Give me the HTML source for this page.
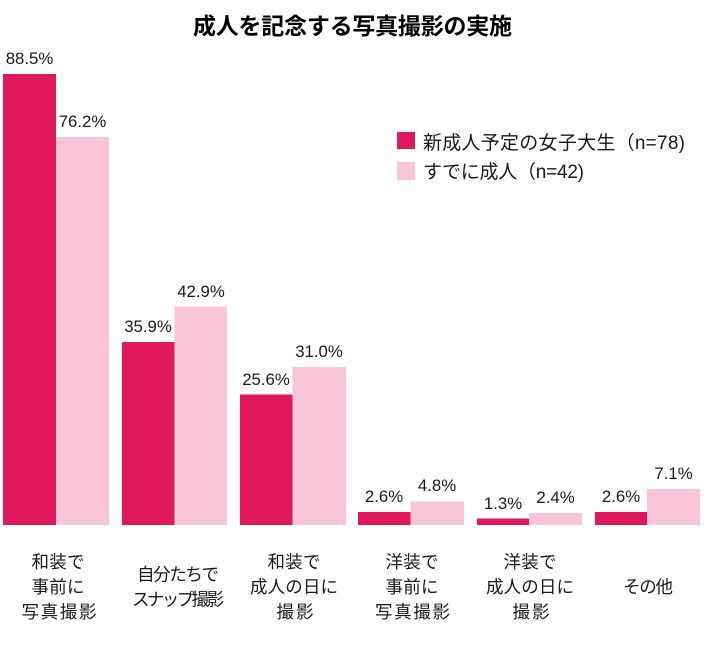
<!DOCTYPE html>
<html><head><meta charset="utf-8"><style>
html,body{margin:0;padding:0;background:#fff;}
svg{display:block;}
.v{font-family:"Liberation Sans","Noto Sans CJK JP",sans-serif;font-size:16.8px;fill:#1a1a1a;text-anchor:middle;}
.c{font-family:"Liberation Sans","Noto Sans CJK JP",sans-serif;font-size:17.5px;fill:#1a1a1a;text-anchor:middle;}
.l{font-family:"Liberation Sans","Noto Sans CJK JP",sans-serif;font-size:19px;fill:#1a1a1a;}
.t{font-family:"Liberation Sans","Noto Sans CJK JP",sans-serif;font-size:23px;font-weight:bold;fill:#000;}
</style></head><body>
<svg width="716" height="647" viewBox="0 0 716 647" xmlns="http://www.w3.org/2000/svg">
<rect width="716" height="647" fill="#fff"/>
<text class="t" x="193" y="34" textLength="319" lengthAdjust="spacing">成人を記念する写真撮影の実施</text>

<!-- legend -->
<rect x="397" y="132" width="18" height="17" fill="#E0195D"/>
<text class="l" x="423" y="149" textLength="262" lengthAdjust="spacing">新成人予定の女子大生（n=78)</text>
<rect x="397" y="162" width="18" height="18" fill="#F9C5D9"/>
<text class="l" x="423" y="178" textLength="161" lengthAdjust="spacing">すでに成人（n=42)</text>

<!-- group 1 -->
<rect x="3" y="74" width="53" height="451" fill="#E0195D"/>
<rect x="56" y="137" width="53" height="388" fill="#F9C5D9"/>
<text class="v" x="29.5" y="64">88.5%</text>
<text class="v" x="82.5" y="127">76.2%</text>

<!-- group 2 -->
<rect x="122" y="342" width="52.5" height="183" fill="#E0195D"/>
<rect x="174.5" y="306.5" width="52.5" height="218.5" fill="#F9C5D9"/>
<text class="v" x="148" y="332">35.9%</text>
<text class="v" x="201" y="297">42.9%</text>

<!-- group 3 -->
<rect x="240" y="394.5" width="52.5" height="130.5" fill="#E0195D"/>
<rect x="292.5" y="367" width="53.5" height="158" fill="#F9C5D9"/>
<text class="v" x="266" y="385">25.6%</text>
<text class="v" x="319" y="357">31.0%</text>

<!-- group 4 -->
<rect x="358" y="512" width="52.5" height="13" fill="#E0195D"/>
<rect x="410.5" y="501.5" width="53.5" height="23.5" fill="#F9C5D9"/>
<text class="v" x="384" y="502">2.6%</text>
<text class="v" x="437" y="491">4.8%</text>

<!-- group 5 -->
<rect x="477" y="518.5" width="52" height="6.5" fill="#E0195D"/>
<rect x="529" y="513" width="53" height="12" fill="#F9C5D9"/>
<text class="v" x="503" y="509">1.3%</text>
<text class="v" x="555.5" y="503">2.4%</text>

<!-- group 6 -->
<rect x="595" y="512" width="52" height="13" fill="#E0195D"/>
<rect x="647" y="489" width="53" height="36" fill="#F9C5D9"/>
<text class="v" x="621" y="502">2.6%</text>
<text class="v" x="673.5" y="479">7.1%</text>

<!-- category labels -->
<text class="c" x="58" y="568" textLength="53" lengthAdjust="spacing">和装で</text>
<text class="c" x="58" y="593" textLength="53" lengthAdjust="spacing">事前に</text>
<text class="c" x="59" y="618" textLength="75" lengthAdjust="spacing">写真撮影</text>

<text class="c" x="178" y="580.5" textLength="82" lengthAdjust="spacing">自分たちで</text>
<text class="c" x="178" y="605.5" textLength="92" lengthAdjust="spacing">スナップ撮影</text>

<text class="c" x="294" y="568" textLength="53" lengthAdjust="spacing">和装で</text>
<text class="c" x="294" y="593" textLength="88" lengthAdjust="spacing">成人の日に</text>
<text class="c" x="295" y="618" textLength="37" lengthAdjust="spacing">撮影</text>

<text class="c" x="412" y="568" textLength="53" lengthAdjust="spacing">洋装で</text>
<text class="c" x="412" y="593" textLength="53" lengthAdjust="spacing">事前に</text>
<text class="c" x="412.5" y="618" textLength="75" lengthAdjust="spacing">写真撮影</text>

<text class="c" x="530" y="568" textLength="53" lengthAdjust="spacing">洋装で</text>
<text class="c" x="530" y="593" textLength="88" lengthAdjust="spacing">成人の日に</text>
<text class="c" x="531" y="618" textLength="37" lengthAdjust="spacing">撮影</text>

<text class="c" x="648" y="593" textLength="50" lengthAdjust="spacing">その他</text>
</svg>
</body></html>
